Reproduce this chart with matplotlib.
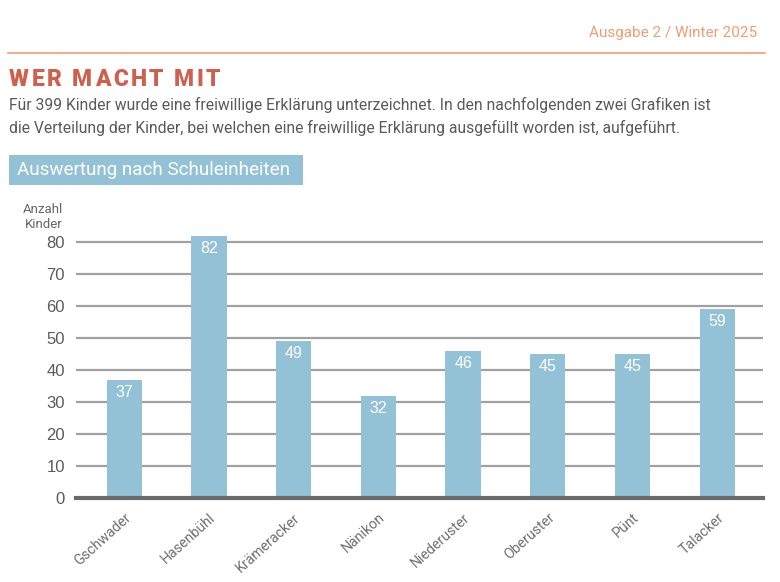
import matplotlib
matplotlib.use("Agg")
import matplotlib.pyplot as plt
import matplotlib.transforms as mtransforms
from matplotlib.patches import Rectangle

# daten
schulen = ["Gschwader", "Hasenbühl", "Krämeracker", "Nänikon",
           "Niederuster", "Oberuster", "Pünt", "Talacker"]
anzahl = [37, 82, 49, 32, 46, 45, 45, 59]
yticks = [0, 10, 20, 30, 40, 50, 60, 70, 80]

W, H = 780, 582
blau = "#93C1D6"
orange = "#EE9E74"
rot = "#D0604C"
grau = "#5a5a5a"

plt.rcParams["font.family"] = ["Roboto", "DejaVu Sans"]


def fx(px):
    return px / W


def fy(py):
    return 1 - py / H


fig = plt.figure(figsize=(W / 100, H / 100), dpi=100)
renderer = fig.canvas.get_renderer()

# kopfzeile
fig.text(fx(757), fy(33), "Ausgabe 2 / Winter 2025", ha="right", va="center",
         fontsize=11, color=orange)
fig.add_artist(plt.Line2D([fx(8), fx(765)], [fy(53), fy(53)], color=orange, lw=1.2))

# titel mit sperrung, buchstabe fuer buchstabe
xpos = 9
for ch in "WER MACHT MIT":
    t = fig.text(fx(xpos), fy(79), ch, ha="left", va="center",
                 fontsize=16.5, fontweight="black", color=rot)
    w = t.get_window_extent(renderer).width if ch != " " else 5
    xpos += w + 2.6

fig.text(fx(9), fy(105), "Für 399 Kinder wurde eine freiwillige Erklärung unterzeichnet. "
         "In den nachfolgenden zwei Grafiken ist", ha="left", va="center",
         fontsize=11.3, color=grau)
fig.text(fx(9), fy(128), "die Verteilung der Kinder, bei welchen eine freiwillige Erklärung "
         "ausgefüllt worden ist, aufgeführt.", ha="left", va="center",
         fontsize=11.3, color=grau)

# blaue box
fig.add_artist(Rectangle((fx(9), fy(185)), fx(294), (185 - 155) / H,
                         transform=fig.transFigure, color=blau, lw=0))
fig.text(fx(17), fy(170), "Auswertung nach Schuleinheiten", ha="left", va="center",
         fontsize=13.6, color="white")

fig.text(fx(63), fy(217), "Anzahl\nKinder", ha="right", va="center",
         fontsize=9.5, color="#666666", linespacing=1.25)

# diagramm
ax = fig.add_axes([fx(76), 1 - 498 / H, (763 - 76) / W, 272 / H])
x = list(range(len(schulen)))
ax.bar(x, anzahl, width=0.417, color=blau, zorder=3)
for i, v in enumerate(anzahl):
    ax.annotate(str(v), (i, v), xytext=(0, -9), textcoords="offset points",
                ha="center", va="center", color="white", fontsize=11.5,
                family=["Liberation Sans", "DejaVu Sans"], zorder=4)

ax.set_xlim(-0.57, 7.54)
ax.set_ylim(0, 85)
for t in yticks[1:]:
    ax.axhline(t, color="#a0a0a0", lw=1.6, zorder=1)
ax.axhline(0, color="#6a6a6a", lw=3, zorder=5, clip_on=False)

ax.set_yticks(yticks)
ax.set_yticklabels([str(t) for t in yticks], fontsize=12, color=grau,
                   family=["Liberation Sans", "DejaVu Sans"])
ax.set_xticks(x)
ax.set_xticklabels(schulen, rotation=42, ha="right", rotation_mode="anchor",
                   fontsize=10.2, color="#707070")
shift = mtransforms.ScaledTranslation(6 / 100, 0, fig.dpi_scale_trans)
for lab in ax.get_xticklabels():
    lab.set_transform(lab.get_transform() + shift)
ax.tick_params(axis="both", length=0)
ax.tick_params(axis="y", pad=8)
ax.tick_params(axis="x", pad=9)
for s in ax.spines.values():
    s.set_visible(False)

fig.savefig("out.png", dpi=100)
